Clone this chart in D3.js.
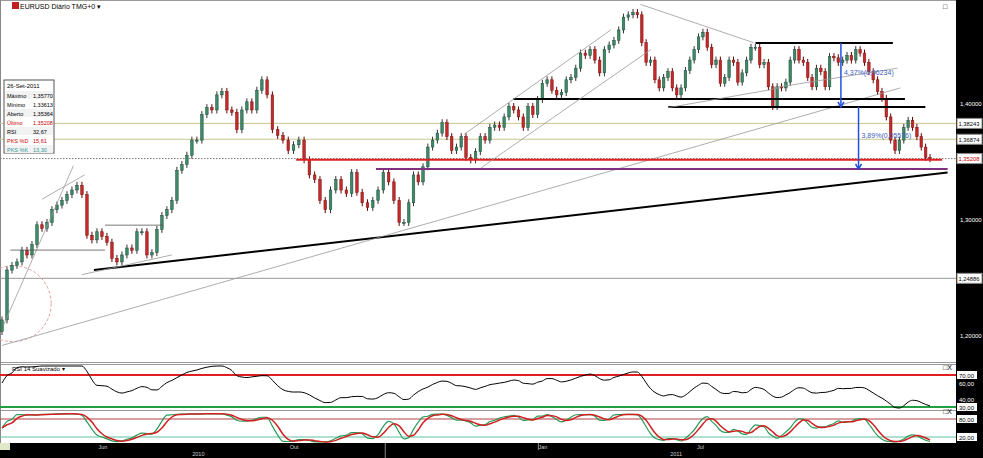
<!DOCTYPE html>
<html><head><meta charset="utf-8">
<script src="https://cdn.jsdelivr.net/npm/d3@7"></script>
<style>body{margin:0;background:#fff}svg{display:block;font-family:"Liberation Sans",Arial,sans-serif}</style>
</head><body><svg id="c" width="983" height="458"></svg>
<script>
const closes=[1.213,1.256,1.260,1.263,1.273,1.269,1.278,1.295,1.292,1.297,1.308,1.312,1.316,1.321,1.325,1.329,1.321,1.286,1.282,1.289,1.285,1.280,1.266,1.263,1.269,1.275,1.273,1.289,1.289,1.269,1.271,1.291,1.303,1.308,1.316,1.342,1.347,1.355,1.368,1.368,1.390,1.396,1.394,1.407,1.410,1.394,1.392,1.377,1.394,1.401,1.394,1.411,1.420,1.407,1.377,1.372,1.368,1.359,1.364,1.368,1.351,1.338,1.334,1.316,1.308,1.325,1.334,
1.325,1.322,1.340,1.323,1.314,1.310,1.316,1.325,1.340,1.332,1.316,1.297,1.297,1.314,1.338,1.332,1.345,1.362,1.368,1.374,1.383,1.371,1.359,1.362,1.371,1.353,1.351,1.358,1.371,1.368,1.379,1.381,1.379,1.388,1.397,1.394,1.388,1.379,1.397,1.390,1.403,1.417,1.420,1.411,1.407,1.409,1.420,1.422,1.430,1.443,1.441,1.446,1.437,1.426,1.446,1.450,1.454,1.463,1.474,1.476,1.478,1.476,1.452,1.435,1.437,1.420,1.413,1.422,1.427,1.413,1.407,1.413,1.428,1.437,1.446,1.457,1.461,1.448,1.433,1.437,1.417,1.422,1.437,1.435,1.418,1.426,1.437,1.448,1.448,1.433,1.435,1.414,1.397,1.414,1.413,1.418,1.437,1.446,1.437,1.435,1.422,1.414,1.430,1.427,1.414,1.440,1.439,1.435,1.437,1.441,1.437,1.446,1.443,1.435,1.427,1.420,1.410,1.404,1.388,1.368,1.359,1.368,1.379,1.385,1.379,1.371,1.362,1.353,1.352];
const priceTicks=[1.40,1.30,1.20];
const markedLevels=[{v:1.38243,t:"1,38243",c:"#000"},{v:1.36874,t:"1,36874",c:"#000"},{v:1.35208,t:"1,35208",c:"#c00"},{v:1.24886,t:"1,24886",c:"#000"}];
const timeLabels=[{t:0.104,s:"Jun"},{t:0.31,s:"Out"},{t:0.578,s:"Jan"},{t:0.749,s:"Jul"}];
const yearLabels=[{t:0.205,s:"2010"},{t:0.72,s:"2011"}];
const infoRows=[["Máximo","1,35770","#000"],["Mínimo","1,33613","#000"],["Aberto","1,35364","#000"],["Último","1,35208","#c00"],["RSI","32,67","#000"],["PKS %D","15,61","#c00"],["PKS %K","13,30","#399"]];
const lines=[
[0.099,1.256,1.019,1.340,"#000",2],
[0,1.191,0.968,1.413,"#999",0.8],
[0.317,1.351,1.013,1.351,"#e02020",2],
[0.403,1.3431,1.019,1.3431,"#803080",2],
[0.551,1.4034,0.973,1.4034,"#000",2],
[0.718,1.3966,0.995,1.3966,"#000",2],
[0.812,1.4518,0.960,1.4518,"#000",2],
[0.002,1.209,0.077,1.346,"#999",0.8],
[0.043,1.317,0.089,1.338,"#999",0.8],
[0.009,1.2732,0.111,1.2732,"#555",0.8],
[0.111,1.2947,0.174,1.2947,"#555",0.8],
[0.086,1.252,0.183,1.269,"#999",0.8],
[0.498,1.373,0.656,1.463,"#999",0.8],
[0.516,1.344,0.699,1.446,"#999",0.8],
[0.688,1.485,0.810,1.452,"#999",0.8],
[0.718,1.396,0.839,1.413,"#999",0.8],
[0.831,1.413,0.965,1.430,"#999",0.8]];
const arrows=[{t:0.904,p0:1.4518,p1:1.3966,label:"4,37%(0,06234)"},{t:0.923,p0:1.3966,p1:1.3431,label:"3,89%(0,05576)"}];
const swingT=[0.28,0.428,0.68];

const svg=d3.select("#c");
const n=closes.length;
const x=d3.scaleLinear([0,1],[2,930]);
const iP1=d3.maxIndex(closes.slice(0,67)), iL=67+d3.minIndex(closes.slice(67,100)), iP2=d3.maxIndex(closes);
const bx=d3.scaleLinear([0,iP1,iL,iP2,n-1],[0,...swingT,1].map(x));
const tx=i=>bx(i);
const y=d3.scaleLinear([1.2,1.4],[335,103]);
const yR=d3.scaleLinear([30,70],[407,375]);
const yS=d3.scaleLinear([20,80],[437,419]);
const bw=2.6;

svg.append("rect").attr("width",983).attr("height",458).attr("fill","#fff");
svg.append("rect").attr("x",956).attr("y",0).attr("width",27).attr("height",458).attr("fill","#000");
svg.append("rect").attr("x",0).attr("y",443).attr("width",983).attr("height",15).attr("fill","#000");
[0,362,364,410].forEach(v=>svg.append("line").attr("x1",0).attr("x2",956).attr("y1",v+0.5).attr("y2",v+0.5).attr("stroke","#999"));
svg.append("line").attr("x1",0.5).attr("x2",0.5).attr("y1",0).attr("y2",443).attr("stroke","#888");

svg.append("line").attr("x1",0).attr("x2",956).attr("y1",y(1.24886)).attr("y2",y(1.24886)).attr("stroke","#999");
[1.38243,1.36874].forEach(v=>svg.append("line").attr("x1",0).attr("x2",956).attr("y1",y(v)).attr("y2",y(v)).attr("stroke","#c8c890"));
svg.append("line").attr("x1",0).attr("x2",956).attr("y1",y(1.35208)).attr("y2",y(1.35208)).attr("stroke","#777").attr("stroke-dasharray","1.5,1.5");
svg.append("circle").attr("cx",x(0.012)).attr("cy",y(1.227)).attr("r",38).attr("fill","none").attr("stroke","#e0a0a0").attr("stroke-dasharray","3,2");

const g=svg.append("g");
closes.forEach((c,i)=>{
  const o=i?closes[i-1]:c-0.01;
  const up=c>=o, hi=Math.max(o,c)+0.003, lo=Math.min(o,c)-0.003;
  const xc=tx(i);
  g.append("line").attr("x1",xc).attr("x2",xc).attr("y1",y(hi)).attr("y2",y(lo)).attr("stroke",up?"#333":"#600");
  g.append("rect").attr("x",xc-bw/2).attr("width",bw).attr("y",y(Math.max(o,c))).attr("height",Math.max(1,Math.abs(y(o)-y(c))))
   .attr("fill",up?"#3d8a68":"#c42a2a").attr("stroke",up?"#1e4a36":"#7a1010").attr("stroke-width",0.5);
});
lines.forEach(l=>svg.append("line").attr("x1",x(l[0])).attr("y1",y(l[1])).attr("x2",x(l[2])).attr("y2",y(l[3])).attr("stroke",l[4]).attr("stroke-width",l[5]));
arrows.forEach(a=>{
  const xa=x(a.t);
  svg.append("line").attr("x1",xa).attr("x2",xa).attr("y1",y(a.p0)).attr("y2",y(a.p1)).attr("stroke","#2050e0").attr("stroke-width",1.5);
  svg.append("path").attr("d",`M${xa-3},${y(a.p1)-5}L${xa},${y(a.p1)}L${xa+3},${y(a.p1)-5}`).attr("fill","none").attr("stroke","#2050e0").attr("stroke-width",1.5);
  svg.append("text").attr("x",xa+3).attr("y",(y(a.p0)+y(a.p1))/2).attr("font-size",7).attr("fill","#4060c0").text(a.label);
});

priceTicks.forEach(v=>svg.append("text").attr("x",960).attr("y",y(v)+3).attr("font-size",6).attr("fill","#fff").text(d3.format(".5f")(v).replace(".",",")));
markedLevels.forEach(m=>{
  svg.append("rect").attr("x",957).attr("y",y(m.v)-5).attr("width",25).attr("height",10).attr("fill","#fff").attr("stroke","#888");
  svg.append("text").attr("x",958.5).attr("y",y(m.v)+2.5).attr("font-size",5.8).attr("fill",m.c).text(m.t);
});

svg.append("rect").attr("x",12).attr("y",2).attr("width",7).attr("height",7).attr("fill","#c02020");
svg.append("text").attr("x",20).attr("y",9).attr("font-size",7).text("EURUSD Diário TMG+0  ▾");
const ib=svg.append("g").attr("transform","translate(4,80)");
ib.append("rect").attr("width",50).attr("height",73).attr("fill","#fff").attr("stroke","#555");
ib.append("text").attr("x",3).attr("y",8).attr("font-size",6).text("26-Set-2011");
infoRows.forEach((r,i)=>{
  if(i%2==0)ib.append("rect").attr("x",1).attr("y",11+i*9).attr("width",48).attr("height",8).attr("fill","#f2f2f2");
  ib.append("text").attr("x",3).attr("y",17.5+i*9).attr("font-size",5.5).attr("fill",r[2]).text(r[0]);
  ib.append("text").attr("x",29).attr("y",17.5+i*9).attr("font-size",5.5).attr("fill",r[2]).text(r[1]);
});

const rsi=[];let ag=0.004,al=0.002;
closes.forEach((c,i)=>{ if(i==0){rsi.push(60);return;}
  const d=c-closes[i-1],k=14;
  ag=(ag*(k-1)+Math.max(d,0))/k; al=(al*(k-1)+Math.max(-d,0))/k;
  rsi.push(100-100/(1+ag/al)); });
const rsiS=rsi.map((v,i)=>d3.mean(rsi.slice(Math.max(0,i-2),i+1)));
svg.append("line").attr("x1",0).attr("x2",956).attr("y1",375).attr("y2",375).attr("stroke","#e02020").attr("stroke-width",2);
svg.append("line").attr("x1",0).attr("x2",956).attr("y1",407).attr("y2",407).attr("stroke","#20a040").attr("stroke-width",2);
svg.append("path").datum(rsiS).attr("d",d3.line((d,i)=>tx(i),d=>Math.max(366,Math.min(409,yR(d)))).curve(d3.curveMonotoneX)).attr("fill","none").attr("stroke","#000");
svg.append("text").attr("x",12).attr("y",371).attr("font-size",6).text("RSI 14 Suavizado ▾");
[[70,"70,00"],[30,"30,00"]].forEach(t=>svg.append("rect").attr("x",957).attr("y",yR(t[0])-4).attr("width",20).attr("height",8).attr("fill","#fff"));
[[70,"70,00"],[60,"60,00"],[40,"40,00"],[30,"30,00"]].forEach(t=>svg.append("text").attr("x",959).attr("y",yR(t[0])+2.5).attr("font-size",6).attr("fill",t[0]==70||t[0]==30?"#000":"#fff").text(t[1]));

const K=closes.map((c,i)=>{const w=closes.slice(Math.max(0,i-13),i+1);const lo=d3.min(w)-0.003,hi=d3.max(w)+0.003;return 100*(c-lo)/(hi-lo);});
const Ks=K.map((v,i)=>d3.mean(K.slice(Math.max(0,i-2),i+1)));
const D=Ks.map((v,i)=>d3.mean(Ks.slice(Math.max(0,i-2),i+1)));
svg.append("line").attr("x1",0).attr("x2",956).attr("y1",yS(80)).attr("y2",yS(80)).attr("stroke","#b04040");
svg.append("line").attr("x1",0).attr("x2",956).attr("y1",yS(20)).attr("y2",yS(20)).attr("stroke","#60c0a0");
const sl=d3.line((d,i)=>tx(i),d=>Math.max(412,Math.min(442,yS(d)))).curve(d3.curveMonotoneX);
svg.append("path").datum(Ks).attr("d",sl).attr("fill","none").attr("stroke","#2a9a5a").attr("stroke-width",1.2);
svg.append("path").datum(D).attr("d",sl).attr("fill","none").attr("stroke","#d02020").attr("stroke-width",1.5);
[[80,"80,00"],[20,"20,00"]].forEach(t=>{svg.append("rect").attr("x",957).attr("y",yS(t[0])-4).attr("width",20).attr("height",8).attr("fill","#fff");svg.append("text").attr("x",959).attr("y",yS(t[0])+2.5).attr("font-size",6).text(t[1]);});
[370,414].forEach(v=>svg.append("text").attr("x",943).attr("y",v).attr("font-size",7).text("□X"));
svg.append("text").attr("x",943).attr("y",9).attr("font-size",7).text("□");

svg.append("line").attr("x1",x(0.413)).attr("x2",x(0.413)).attr("y1",443).attr("y2",458).attr("stroke","#888");
svg.append("line").attr("x1",x(0.578)).attr("x2",x(0.578)).attr("y1",443).attr("y2",450).attr("stroke","#888");
timeLabels.forEach(l=>svg.append("text").attr("x",x(l.t)).attr("y",449).attr("font-size",5.5).attr("fill","#ccc").text(l.s));
yearLabels.forEach(l=>svg.append("text").attr("x",x(l.t)).attr("y",456).attr("font-size",5.5).attr("fill","#ccc").text(l.s));
svg.append("rect").attr("x",0).attr("y",443).attr("width",10).attr("height",7).attr("fill","#dfe8c8");
</script></body></html>
